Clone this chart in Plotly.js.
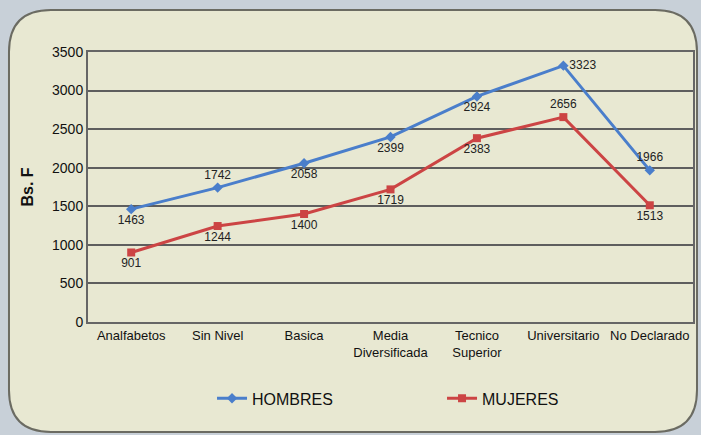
<!DOCTYPE html>
<html><head><meta charset="utf-8">
<script src="https://cdn.plot.ly/plotly-3.0.1.min.js"></script>
<style>html,body{margin:0;padding:0;background:#c8d0d8;}</style>
</head><body>
<div id="chart" style="width:701px;height:435px;"></div>
<script>
const categories = ["Analfabetos","Sin Nivel","Basica","Media<br>Diversificada","Tecnico<br>Superior","Universitario","No Declarado"];
const hombres = [1463,1742,2058,2399,2924,3323,1966];
const mujeres = [901,1244,1400,1719,2383,2656,1513];
const hombresPos = ["bottom center","top center","bottom center","bottom center","bottom center","middle right","top center"];
const mujeresPos = ["bottom center","bottom center","bottom center","bottom center","bottom center","top center","bottom center"];

const W=701,H=435,L=88,R=8,T=52,B=113;
const pw=W-L-R, ph=H-T-B;
const px=x=>((x-L)/pw).toFixed(4);
const py=y=>((H-B-y)/ph).toFixed(4);
function roundRect(x0,y0,x1,y1,r){
  return `M${px(x0+r)},${py(y0)} L${px(x1-r)},${py(y0)} Q${px(x1)},${py(y0)} ${px(x1)},${py(y0+r)} `+
         `L${px(x1)},${py(y1-r)} Q${px(x1)},${py(y1)} ${px(x1-r)},${py(y1)} `+
         `L${px(x0+r)},${py(y1)} Q${px(x0)},${py(y1)} ${px(x0)},${py(y1-r)} `+
         `L${px(x0)},${py(y0+r)} Q${px(x0)},${py(y0)} ${px(x0+r)},${py(y0)} Z`;
}
const font = "Liberation Sans Narrow, Arial Narrow, Liberation Sans, Arial, sans-serif";
const traces = [
 {x:categories,y:hombres,name:"HOMBRES",mode:"lines+markers+text",text:hombres.map(String),textposition:hombresPos,
  line:{color:"#4a7ecb",width:3},marker:{symbol:"diamond",size:8,color:"#4a7ecb"},
  textfont:{size:12,color:"#222",family:font},cliponaxis:false},
 {x:categories,y:mujeres,name:"MUJERES",mode:"lines+markers+text",text:mujeres.map(String),textposition:mujeresPos,
  line:{color:"#cc4444",width:3},marker:{symbol:"square",size:8,color:"#cc4444"},
  textfont:{size:12,color:"#222",family:font},cliponaxis:false}
];
const layout = {
 width:W,height:H,margin:{l:L,r:R,t:T,b:B,autoexpand:false},
 paper_bgcolor:"#c8d0d8",plot_bgcolor:"#ffffff",
 font:{family:font,color:"#111",size:13},
 showlegend:true,
 legend:{orientation:"h",x:0.205,y:-0.22,xanchor:"left",yanchor:"top",font:{size:16,color:"#111",family:font},bgcolor:"rgba(0,0,0,0)",entrywidth:185,entrywidthmode:"pixels",traceorder:"normal"},
 xaxis:{type:"category",range:[-0.5,6.5],showgrid:false,showline:true,linecolor:"#666",linewidth:2,mirror:true,ticks:"",tickfont:{size:13,family:font,color:"#111"},fixedrange:true,automargin:false},
 yaxis:{range:[0,3500],dtick:500,showgrid:true,gridcolor:"#5e5e5e",gridwidth:2,showline:true,linecolor:"#666",linewidth:2,mirror:true,ticks:"",
   tickfont:{size:14,family:font,color:"#111"},zeroline:false,automargin:false,
   title:{text:"<b>Bs. F</b>",font:{size:16,family:"Liberation Sans, Arial, sans-serif",color:"#111"},standoff:14}},
 shapes:[
  {type:"path",xref:"paper",yref:"paper",path:roundRect(9,10,697,432,42),fillcolor:"#e8e8d2",line:{color:"#6b6b62",width:2},layer:"below"}
 ]
};
Plotly.newPlot("chart",traces,layout,{displayModeBar:false,staticPlot:true});
</script>
</body></html>
